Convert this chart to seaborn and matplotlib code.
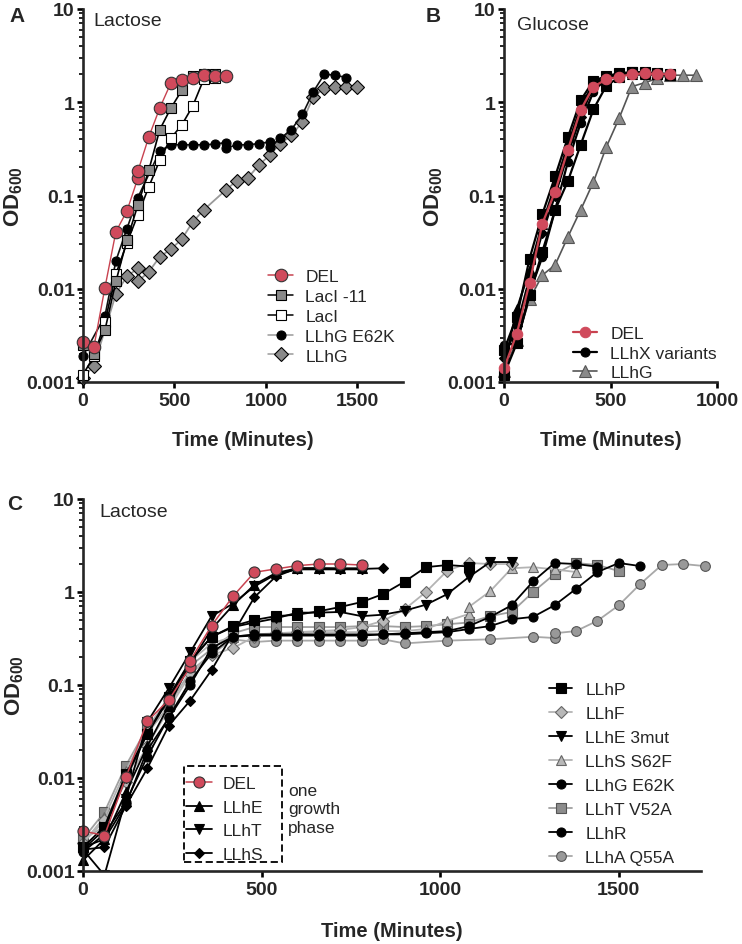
import matplotlib
matplotlib.use('Agg')
import matplotlib.pyplot as plt
import matplotlib.patches as patches
import seaborn as sns
from matplotlib.lines import Line2D
from matplotlib.ticker import LogLocator, NullFormatter
import numpy as np

# sampling times in minutes
T60 = [0, 60, 120, 180, 240, 300, 360, 420, 480, 540, 600, 660, 720, 780, 840,
       900, 960, 1020, 1080, 1140, 1200, 1260, 1320, 1380, 1440, 1500, 1560]

# ---- panel A: lactose ----
a_del_t = [0, 60, 120, 180, 240, 300, 300, 360, 420, 480, 540, 600, 660, 720, 780]
a_del_od = [0.0027, 0.0024, 0.0103, 0.041, 0.068, 0.153, 0.182, 0.425, 0.87, 1.6, 1.72, 1.84, 1.98, 1.92, 1.92]
a_laci11_t = T60[:13]
a_laci11_od = [0.0025, 0.002, 0.0036, 0.012, 0.033, 0.079, 0.187, 0.51, 0.86, 1.34, 1.9, 2.0, 2.0]
a_laci_t = T60[:13]
a_laci_od = [0.0012, 0.0019, 0.0044, 0.0144, 0.031, 0.062, 0.124, 0.24, 0.41, 0.57, 0.91, 1.76, 1.84]
a_e62k_t = [0, 120, 180, 240, 300, 420, 480, 540, 600, 660, 720, 780, 780, 840, 900, 960,
            1020, 1020, 1080, 1140, 1200, 1260, 1320, 1380, 1440]
a_e62k_od = [0.0019, 0.0051, 0.020, 0.044, 0.095, 0.30, 0.35, 0.35, 0.35, 0.35, 0.355, 0.37, 0.32,
             0.35, 0.35, 0.36, 0.375, 0.33, 0.41, 0.51, 0.74, 1.30, 2.0, 1.95, 1.84]
a_llhg_t = [0, 60, 180, 240, 300, 300, 360, 420, 480, 540, 600, 660, 780, 840, 900, 960,
            1020, 1080, 1140, 1200, 1260, 1320, 1380, 1440, 1500]
a_llhg_od = [0.0011, 0.0015, 0.0088, 0.0136, 0.0165, 0.012, 0.0152, 0.022, 0.0265, 0.034, 0.052,
             0.07, 0.114, 0.144, 0.153, 0.21, 0.27, 0.36, 0.44, 0.62, 1.15, 1.41, 1.46, 1.46, 1.46]

# ---- panel B: glucose ----
b_del_t = T60[:14]
b_del_od = [0.0014, 0.0033, 0.0115, 0.05, 0.11, 0.31, 0.83, 1.47, 1.76, 1.88, 2.0, 2.04, 2.0, 2.0]
b_llhg_t = T60[:16]
b_llhg_od = [0.0013, 0.0028, 0.0077, 0.014, 0.018, 0.036, 0.07, 0.14, 0.33, 0.67, 1.47, 1.62,
             1.8, 1.95, 1.95, 1.95]
b_var_t = T60[:14]
b_var1_od = [0.0022, 0.005, 0.021, 0.063, 0.16, 0.42, 1.05, 1.7, 1.9, 2.05, 2.1, 2.05, 2.0, 1.95]
b_var2_od = [0.0012, 0.0026, 0.0085, 0.025, 0.07, 0.143, 0.35, 0.84, 1.5, 1.85, 2.1, 2.1, 2.05, 2.0]
b_var3_od = [0.0025, 0.0026, 0.009, 0.022, 0.07, 0.23, 0.6, 1.3, 1.8, 2.0, 2.0, 2.0, 2.0, 2.0]
b_var4_od = [0.0015, 0.006, 0.016, 0.05, 0.13, 0.35, 0.9, 1.6, 1.9, 2.0, 2.0, 2.0, 2.0, 2.0]
b_var5_od = [0.0018, 0.004, 0.013, 0.04, 0.1, 0.28, 0.7, 1.5, 1.85, 1.95, 2.0, 2.0, 2.0, 2.0]

# ---- panel C: lactose, variants ----
c_del_t = [0, 60, 120, 180, 240, 300, 300, 360, 420, 480, 540, 600, 660, 720, 780]
c_del_od = [0.0027, 0.0024, 0.0102, 0.0407, 0.069, 0.155, 0.183, 0.435, 0.9, 1.63, 1.77, 1.92, 2.0, 2.0, 1.95]
c_llhe_t = T60[:14]
c_llhe_od = [0.0013, 0.0022, 0.007, 0.022, 0.06, 0.17, 0.4, 0.72, 1.2, 1.6, 1.8, 1.8, 1.8, 1.8]
c_llht_t = T60[:14]
c_llht_od = [0.0017, 0.0009, 0.006, 0.04, 0.092, 0.224, 0.55, 0.75, 1.15, 1.55, 1.75, 1.75, 1.75, 1.75]
c_llhs_t = [0, 60, 120, 180, 240, 300, 360, 480, 540, 600, 660, 720, 780, 840]
c_llhs_od = [0.0017, 0.0018, 0.005, 0.0127, 0.0365, 0.068, 0.145, 0.88, 1.47, 1.8, 1.8, 1.77, 1.77, 1.8]

c_llhp_t = T60[:19]
c_llhp_od = [0.0018, 0.003, 0.011, 0.03, 0.075, 0.18, 0.33, 0.43, 0.5, 0.55, 0.57, 0.62, 0.69,
             0.78, 0.95, 1.29, 1.85, 1.95, 1.88]
c_llhf_t = T60[:21]
c_llhf_od = [0.002, 0.0035, 0.009, 0.022, 0.055, 0.13, 0.21, 0.25, 0.33, 0.36, 0.37, 0.38, 0.39,
             0.42, 0.49, 0.65, 1.0, 1.7, 2.05, 2.0, 2.0]
c_e3mut_t = T60[:21]
c_e3mut_od = [0.0017, 0.0028, 0.01, 0.03, 0.07, 0.18, 0.33, 0.42, 0.47, 0.52, 0.6, 0.6, 0.61,
              0.55, 0.57, 0.63, 0.73, 0.95, 1.45, 2.1, 2.1]
c_s62f_t = T60[:19] + [1080, 1140, 1200, 1260, 1320, 1380]
c_s62f_od = [0.002, 0.0038, 0.012, 0.033, 0.075, 0.18, 0.28, 0.33, 0.35, 0.36, 0.36, 0.37, 0.37,
             0.37, 0.38, 0.38, 0.40, 0.49, 0.58, 0.69, 1.02, 1.8, 1.85, 1.75, 1.64]
c_e62k_t = T60[:25]
c_e62k_od = [0.0018, 0.0022, 0.0052, 0.02, 0.044, 0.1, 0.25, 0.33, 0.35, 0.35, 0.35, 0.35, 0.35,
             0.35, 0.35, 0.36, 0.37, 0.38, 0.43, 0.54, 0.72, 1.3, 2.05, 2.0, 1.87]
c_v52a_t = T60[:26]
c_v52a_od = [0.0022, 0.0043, 0.0136, 0.035, 0.07, 0.16, 0.244, 0.36, 0.42, 0.42, 0.42, 0.42, 0.42,
             0.43, 0.43, 0.42, 0.43, 0.45, 0.47, 0.55, 0.61, 1.0, 1.56, 2.05, 1.95, 1.68]
c_llhr_t = T60[:27]
c_llhr_od = [0.0016, 0.0025, 0.0055, 0.017, 0.045, 0.11, 0.22, 0.33, 0.34, 0.34, 0.34, 0.34, 0.34,
             0.34, 0.35, 0.35, 0.36, 0.37, 0.40, 0.43, 0.51, 0.54, 0.72, 1.08, 1.64, 2.05, 1.9]
c_q55a_t = [0, 60, 120, 180, 240, 300, 360, 420, 480, 540, 600, 660, 720, 780, 840, 900, 1020,
            1140, 1260, 1320, 1320, 1380, 1440, 1500, 1560, 1620, 1680, 1740]
c_q55a_od = [0.0022, 0.003, 0.0095, 0.03, 0.06, 0.14, 0.215, 0.31, 0.29, 0.3, 0.3, 0.3, 0.3, 0.3,
             0.31, 0.28, 0.30, 0.31, 0.33, 0.32, 0.36, 0.38, 0.49, 0.72, 1.22, 1.95, 2.0, 1.9]

RED_LINE = '#c8424f'
RED_FACE = '#d04a5c'
GREY = '#8a8a8a'
LIGHT = '#b8b8b8'

sns.set_style('ticks')
plt.rcParams['font.family'] = ['Liberation Sans', 'DejaVu Sans']
plt.rcParams['mathtext.fontset'] = 'custom'
plt.rcParams['mathtext.bf'] = 'Liberation Sans:bold'
plt.rcParams['mathtext.rm'] = 'Liberation Sans'


def curve(ax, t, od, line, marker, face, ms, lw=1.1, edge='black', clip=False):
    sns.lineplot(x=t, y=od, ax=ax, estimator=None, sort=False, color=line, linewidth=lw,
                 marker=marker, markersize=ms, markerfacecolor=face, markeredgecolor=edge,
                 markeredgewidth=0.8, clip_on=clip, legend=False)


def handle(line, marker, face, ms, lw=1.1, edge='black'):
    return Line2D([], [], color=line, lw=lw, marker=marker, markersize=ms,
                  markerfacecolor=face, markeredgecolor=edge, markeredgewidth=0.8)


def style_axis(ax, xmax, xticks, ylab_x, xlab_y):
    ax.set_yscale('log')
    ax.set_ylim(0.001, 10)
    ax.set_xlim(0, xmax)
    ax.set_yticks([0.001, 0.01, 0.1, 1, 10], ['0.001', '0.01', '0.1', '1', '10'])
    ax.set_xticks(xticks, [str(v) for v in xticks])
    ax.yaxis.set_minor_locator(LogLocator(base=10, subs=np.arange(2, 10)))
    ax.yaxis.set_minor_formatter(NullFormatter())
    for s in ['top', 'right']:
        ax.spines[s].set_visible(False)
    for s in ['left', 'bottom']:
        ax.spines[s].set_linewidth(1.9)
    ax.tick_params(which='major', length=4.5, width=1.9, labelsize=14, pad=1.5, color='black')
    ax.tick_params(axis='x', which='major', pad=3)
    ax.tick_params(which='minor', length=2.8, width=1.2, color='black')
    for lab in ax.get_xticklabels() + ax.get_yticklabels():
        lab.set_fontweight('bold')
    ax.set_xlabel('Time (Minutes)', fontsize=14.5, fontweight='bold')
    ax.set_ylabel(r'$\mathbf{OD_{600}}$', fontsize=16)
    ax.xaxis.set_label_coords(0.5, xlab_y)
    ax.yaxis.set_label_coords(ylab_x, 0.5)


W, H = 742, 945
fig = plt.figure(figsize=(W / 100, H / 100), dpi=100)
axA = fig.add_axes([83 / W, 1 - 383 / H, 320 / W, 373 / H])
axB = fig.add_axes([504 / W, 1 - 383 / H, 213 / W, 373 / H])
axC = fig.add_axes([83 / W, 1 - 872 / H, 618 / W, 372 / H])

# panel A
curve(axA, a_llhg_t, a_llhg_od, '#9a9a9a', 'D', GREY, 7.5, lw=1.3)
curve(axA, a_e62k_t, a_e62k_od, '#111111', 'o', 'black', 6.5, lw=1.2)
curve(axA, a_laci_t, a_laci_od, 'black', 's', 'white', 7, lw=1.2)
curve(axA, a_laci11_t, a_laci11_od, 'black', 's', GREY, 7.5, lw=1.2)
curve(axA, a_del_t, a_del_od, RED_LINE, 'o', RED_FACE, 9, lw=1.0, edge='#333333')
style_axis(axA, 1750, [0, 500, 1000, 1500], -0.18, -0.13)

hA = [handle(RED_LINE, 'o', RED_FACE, 9, edge='#333333'),
      handle('black', 's', GREY, 7.5),
      handle('black', 's', 'white', 7),
      handle('#9a9a9a', 'o', 'black', 6.5),
      handle('#9a9a9a', 'D', GREY, 7.5)]
axA.legend(hA, ['DEL', 'LacI -11', 'LacI', 'LLhG E62K', 'LLhG'], loc='upper left',
           bbox_to_anchor=(268 / W, 1 - 270 / H), bbox_transform=fig.transFigure,
           frameon=False, fontsize=12.5, borderpad=0, borderaxespad=0,
           handlelength=1.45, handletextpad=0.7, labelspacing=0.27)

# panel B
curve(axB, b_llhg_t, b_llhg_od, '#555555', '^', GREY, 8.5, lw=1.2, edge='#555555')
for od, mk, ms in [(b_var1_od, 's', 7), (b_var2_od, 's', 7), (b_var3_od, 'o', 6),
                   (b_var4_od, '^', 6.5), (b_var5_od, 'D', 5.5)]:
    curve(axB, b_var_t, od, 'black', mk, 'black', ms, lw=1.6)
curve(axB, b_del_t, b_del_od, RED_LINE, 'o', RED_FACE, 7.5, lw=1.6, edge=RED_FACE)
style_axis(axB, 1000, [0, 500, 1000], -0.277, -0.13)

hB = [handle(RED_LINE, 'o', RED_FACE, 7.5, lw=1.6, edge=RED_FACE),
      handle('black', 'o', 'black', 6.5, lw=1.6),
      handle('#555555', '^', GREY, 8.5, lw=1.2, edge='#555555')]
axB.legend(hB, ['DEL', 'LLhX variants', 'LLhG'], loc='upper left',
           bbox_to_anchor=(573 / W, 1 - 327 / H), bbox_transform=fig.transFigure,
           frameon=False, fontsize=12.5, borderpad=0, borderaxespad=0,
           handlelength=1.4, handletextpad=0.75, labelspacing=0.26)

# panel C
curve(axC, c_q55a_t, c_q55a_od, '#a8a8a8', 'o', '#999999', 7, lw=1.3, edge='#555555')
curve(axC, c_v52a_t, c_v52a_od, '#a0a0a0', 's', '#8c8c8c', 7, lw=1.3, edge='#555555')
curve(axC, c_s62f_t, c_s62f_od, '#b4b4b4', '^', LIGHT, 7, lw=1.3, edge='#666666')
curve(axC, c_llhf_t, c_llhf_od, '#b4b4b4', 'D', LIGHT, 6.5, lw=1.3, edge='#666666')
curve(axC, c_llhr_t, c_llhr_od, 'black', 'o', 'black', 6.5, lw=1.3)
curve(axC, c_e62k_t, c_e62k_od, 'black', 'o', 'black', 6.5, lw=1.3)
curve(axC, c_e3mut_t, c_e3mut_od, 'black', 'v', 'black', 6.5, lw=1.3)
curve(axC, c_llhp_t, c_llhp_od, 'black', 's', 'black', 6.5, lw=1.3)
curve(axC, c_llhs_t, c_llhs_od, 'black', 'D', 'black', 5.5, lw=1.3)
curve(axC, c_llht_t, c_llht_od, 'black', 'v', 'black', 6.5, lw=1.3, clip=True)
curve(axC, c_llhe_t, c_llhe_od, 'black', '^', 'black', 6.5, lw=1.3)
curve(axC, c_del_t, c_del_od, RED_LINE, 'o', RED_FACE, 8, lw=1.1, edge='#333333')
style_axis(axC, 1730, [0, 500, 1000, 1500], -0.093, -0.134)

hBox = [handle(RED_LINE, 'o', RED_FACE, 8, edge='#333333'),
        handle('black', '^', 'black', 6.5, lw=1.3),
        handle('black', 'v', 'black', 6.5, lw=1.3),
        handle('black', 'D', 'black', 5.5, lw=1.3)]
legBox = axC.legend(hBox, ['DEL', 'LLhE', 'LLhT', 'LLhS'], loc='upper left',
                    bbox_to_anchor=(186 / W, 1 - 777 / H), bbox_transform=fig.transFigure,
                    frameon=False, fontsize=12.5, borderpad=0, borderaxespad=0,
                    handlelength=1.5, handletextpad=0.6, labelspacing=0.48)
axC.add_artist(legBox)
fig.add_artist(patches.Rectangle((184 / W, 1 - 863 / H), 98 / W, 96 / H,
                                 transform=fig.transFigure, fill=False,
                                 ls=(0, (4, 2)), lw=1.3, ec='black'))
fig.text(288 / W, 1 - 810 / H, 'one\ngrowth\nphase', fontsize=12.5, ha='left', va='center',
         linespacing=1.29)

hC = [handle('black', 's', 'black', 6.5, lw=1.3),
      handle('#b4b4b4', 'D', LIGHT, 6.5, lw=1.3, edge='#666666'),
      handle('black', 'v', 'black', 6.5, lw=1.3),
      handle('#b4b4b4', '^', LIGHT, 7, lw=1.3, edge='#666666'),
      handle('black', 'o', 'black', 6.5, lw=1.3),
      handle('#a0a0a0', 's', '#8c8c8c', 7, lw=1.3, edge='#555555'),
      handle('black', 'o', 'black', 6.5, lw=1.3),
      handle('#a8a8a8', 'o', '#999999', 7, lw=1.3, edge='#555555')]
axC.legend(hC, ['LLhP', 'LLhF', 'LLhE 3mut', 'LLhS S62F', 'LLhG E62K', 'LLhT V52A', 'LLhR',
                'LLhA Q55A'], loc='upper left',
           bbox_to_anchor=(549 / W, 1 - 683 / H), bbox_transform=fig.transFigure,
           frameon=False, fontsize=12.5, borderpad=0, borderaxespad=0,
           handlelength=1.35, handletextpad=0.75, labelspacing=0.51)

# panel letters and condition labels
for letter, x, y in [('A', 17, 17), ('B', 433, 17), ('C', 15, 505)]:
    fig.text(x / W, 1 - y / H, letter, fontsize=15, fontweight='bold', ha='center', va='center')
fig.text(93 / W, 1 - 22 / H, 'Lactose', fontsize=14, ha='left', va='center')
fig.text(517 / W, 1 - 25 / H, 'Glucose', fontsize=14, ha='left', va='center')
fig.text(99 / W, 1 - 513 / H, 'Lactose', fontsize=14, ha='left', va='center')

fig.savefig('out.png', dpi=100)
